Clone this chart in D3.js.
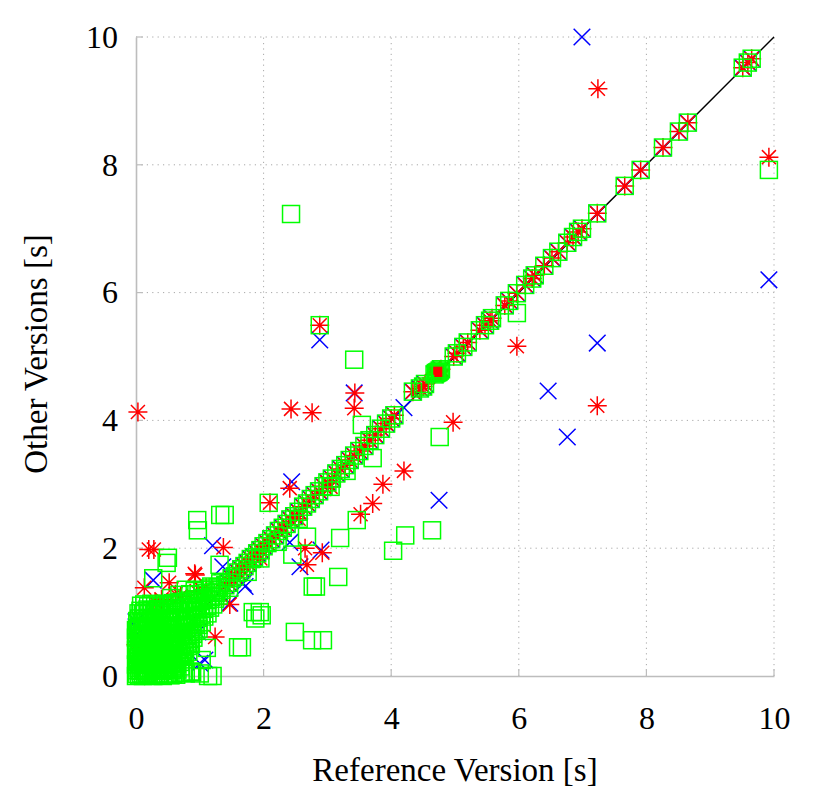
<!DOCTYPE html>
<html><head><meta charset="utf-8">
<script src="https://cdn.jsdelivr.net/npm/d3@7"></script>
<style>body{margin:0;background:#fff}</style>
</head><body>
<svg id="chart" width="830" height="792"></svg>
<script>
// tick labels
const xTicks = [0, 2, 4, 6, 8, 10];
const yTicks = [0, 2, 4, 6, 8, 10];

// benchmarks where all versions match the reference (on the diagonal)
const diagX = [1.40,1.45,1.50,1.55,1.60,1.65,1.70,1.75,1.80,1.85,1.90,1.95,2.00,2.06,2.12,2.18,2.24,2.30,2.36,2.42,2.48,2.55,2.62,2.68,2.74,2.80,2.87,2.94,3.00,3.07,3.14,3.21,3.28,3.35,3.42,3.50,3.58,3.66,3.75,3.84,3.92,4.00,4.05,4.34,4.45,4.50,4.53,4.68,4.70,4.72,4.74,4.76,4.78,4.98,5.03,5.13,5.20,5.39,5.47,5.55,5.58,5.78,5.85,5.97,6.10,6.21,6.25,6.40,6.52,6.62,6.76,6.85,6.93,6.99,7.23,7.66,7.91,8.26,8.51,8.65,9.51,9.59,9.65];
const diagY = [1.42,1.46,1.53,1.56,1.62,1.67,1.72,1.77,1.83,1.86,1.92,1.97,2.03,2.08,2.14,2.20,2.27,2.32,2.38,2.45,2.50,2.57,2.65,2.70,2.77,2.83,2.89,2.97,3.03,3.09,3.17,3.24,3.30,3.38,3.45,3.52,3.60,3.69,3.77,3.87,3.95,4.03,4.08,4.45,4.50,4.53,4.57,4.72,4.74,4.75,4.76,4.78,4.80,5.00,5.05,5.15,5.22,5.41,5.49,5.56,5.60,5.80,5.87,5.99,6.12,6.22,6.27,6.42,6.54,6.64,6.78,6.87,6.95,7.00,7.24,7.67,7.92,8.27,8.52,8.66,9.52,9.60,9.66];

// dense cloud of short benchmarks (Green version)
const clusterX = [0.00,0.02,0.05,0.08,0.11,0.14,0.17,0.20,0.24,0.27,0.31,0.34,0.38,0.42,0.46,0.50,0.54,0.58,0.63,0.70,0.78,0.88,
0.01,0.04,0.07,0.10,0.13,0.16,0.19,0.23,0.26,0.30,0.33,0.37,0.41,0.44,0.48,0.52,0.56,0.60,0.65,0.70,
0.00,0.03,0.06,0.09,0.12,0.15,0.18,0.22,0.25,0.29,0.32,0.36,0.39,0.43,0.47,0.51,0.55,0.59,0.64,0.69,0.74,
0.02,0.05,0.08,0.11,0.14,0.17,0.21,0.24,0.28,0.31,0.35,0.38,0.42,0.46,0.50,0.54,0.58,0.62,0.67,0.72,0.77,0.82,
0.00,0.04,0.07,0.10,0.13,0.16,0.20,0.23,0.27,0.30,0.34,0.37,0.41,0.45,0.49,0.53,0.57,0.61,0.66,0.71,0.76,0.81,0.86,
0.02,0.06,0.09,0.12,0.15,0.19,0.22,0.26,0.29,0.33,0.36,0.40,0.44,0.48,0.52,0.56,0.60,0.65,0.70,0.75,0.80,0.85,0.90,
0.01,0.05,0.08,0.11,0.14,0.18,0.21,0.25,0.28,0.32,0.35,0.39,0.43,0.47,0.51,0.55,0.59,0.64,0.69,0.74,0.79,0.84,0.89,0.94,0.98,
0.03,0.06,0.10,0.13,0.17,0.20,0.24,0.27,0.31,0.34,0.38,0.42,0.46,0.50,0.54,0.58,0.63,0.68,0.73,0.78,0.83,0.88,0.93,0.98,1.03,
0.02,0.05,0.09,0.12,0.16,0.19,0.23,0.26,0.30,0.33,0.37,0.41,0.45,0.49,0.53,0.57,0.62,0.67,0.72,0.77,0.82,0.87,0.92,0.97,1.02,1.07,1.12,
0.04,0.07,0.11,0.14,0.18,0.21,0.25,0.28,0.32,0.36,0.40,0.44,0.48,0.52,0.56,0.61,0.66,0.71,0.76,0.81,0.86,0.91,0.96,1.01,1.06,1.11,1.16,1.21,
0.08,0.13,0.19,0.24,0.30,0.35,0.41,0.46,0.52,0.58,0.64,0.70,0.76,0.82,0.88,0.94,1.00,1.06,1.12,1.18,1.24,1.30,
0.85,0.92,0.98,1.04,1.10,1.16,1.22,1.28,1.34,1.46,0.55,0.68,0.78,1.18,1.26,1.32];
const clusterY = [0.00,0.03,0.01,0.04,0.00,0.02,0.05,0.01,0.03,0.00,0.04,0.01,0.03,0.00,0.02,0.04,0.01,0.03,0.02,0.05,0.04,0.06,
0.09,0.12,0.08,0.13,0.10,0.07,0.12,0.09,0.14,0.08,0.11,0.13,0.08,0.12,0.10,0.14,0.09,0.12,0.10,0.15,
0.18,0.22,0.19,0.24,0.20,0.17,0.23,0.20,0.25,0.18,0.22,0.19,0.24,0.21,0.17,0.23,0.20,0.25,0.19,0.22,0.26,
0.29,0.33,0.28,0.32,0.35,0.30,0.27,0.33,0.30,0.35,0.28,0.32,0.36,0.30,0.33,0.28,0.35,0.31,0.34,0.30,0.36,0.38,
0.41,0.38,0.43,0.40,0.45,0.39,0.42,0.46,0.40,0.44,0.38,0.42,0.46,0.40,0.44,0.39,0.43,0.47,0.41,0.45,0.42,0.47,0.50,
0.50,0.54,0.49,0.55,0.51,0.48,0.53,0.57,0.50,0.54,0.49,0.56,0.51,0.55,0.50,0.57,0.52,0.55,0.51,0.57,0.54,0.58,0.60,
0.62,0.66,0.60,0.64,0.68,0.61,0.65,0.62,0.67,0.60,0.64,0.69,0.62,0.66,0.61,0.67,0.63,0.68,0.62,0.66,0.63,0.69,0.66,0.71,0.74,
0.74,0.78,0.72,0.77,0.73,0.79,0.75,0.71,0.77,0.73,0.79,0.74,0.78,0.72,0.77,0.74,0.79,0.75,0.79,0.76,0.80,0.77,0.82,0.80,0.84,
0.86,0.90,0.84,0.89,0.86,0.91,0.87,0.83,0.89,0.85,0.91,0.86,0.90,0.84,0.89,0.86,0.92,0.88,0.91,0.87,0.93,0.89,0.94,0.91,0.96,0.93,0.98,
0.98,1.02,0.97,1.01,1.04,0.99,1.03,0.97,1.01,1.05,0.99,1.03,0.98,1.04,1.00,1.05,1.01,1.06,1.02,1.07,1.03,1.08,1.04,1.09,1.05,1.10,1.07,1.12,
1.10,1.12,1.09,1.13,1.10,1.12,1.09,1.13,1.11,1.14,1.12,1.16,1.13,1.18,1.15,1.20,1.17,1.22,1.19,1.24,1.21,1.26,
1.28,1.33,1.27,1.35,1.30,1.37,1.32,1.39,1.35,1.38,1.22,1.27,1.35,1.40,1.30,1.45];

// visible outliers, Blue version
const blueX = [6.99,9.92,7.23,6.46,6.76,4.75,2.88,3.42,4.20,2.44,2.90,2.41,1.20,1.36,1.71,1.68,1.47,0.27,0.00,0.00,0.00,1.00,0.97,1.08,2.57];
const blueY = [10.00,6.20,5.21,4.46,3.74,2.75,5.26,4.43,4.20,3.04,1.97,2.09,2.04,1.71,1.40,1.45,1.14,1.50,0.85,0.64,0.77,0.20,0.69,0.25,1.71];

// visible outliers, Red version
const redX = [7.24,9.92,7.23,5.97,0.03,2.88,2.43,2.76,3.43,3.42,4.97,4.20,3.87,3.71,3.52,2.41,2.10,2.65,2.92,2.68,1.37,0.93,1.47,0.13,0.52,0.92,1.24,0.00,0.20,0.28,0.40,0.70,0.95,1.10,0.30,0.62,1.95,2.55,3.05];
const redY = [9.19,8.12,4.23,5.16,4.13,5.49,4.18,4.12,4.43,4.19,3.97,3.21,3.00,2.70,2.53,2.94,2.71,2.00,1.93,1.74,2.01,1.58,1.12,1.38,1.46,1.60,0.61,0.49,1.98,1.98,1.20,1.25,1.33,1.38,1.15,1.28,1.84,2.46,2.96];

// visible outliers, Green version
const greenX = [2.43,9.92,2.88,3.42,3.54,4.76,3.71,3.20,3.46,2.68,2.45,4.22,4.03,4.64,2.08,5.97,1.32,1.39,0.96,0.97,2.77,2.82,3.17,1.94,1.87,1.97,1.66,2.49,2.76,2.93,0.50,1.83,1.60,1.11,1.03,1.13,1.20,0.00,0.00,0.27,0.48,1.31,0.75,0.85,1.00,1.75,1.95,2.22,2.55,3.05,3.30];
const greenY = [7.23,7.92,5.49,4.95,3.93,3.74,3.41,2.16,2.44,2.18,1.90,2.20,1.96,2.28,2.71,5.68,2.52,2.52,2.44,2.28,1.40,1.40,1.55,1.00,0.90,0.95,0.45,0.69,0.56,0.56,1.85,1.00,0.45,0.44,0.25,0.00,0.00,0.72,0.60,1.53,1.77,1.74,0.05,0.07,0.04,1.63,1.84,2.10,2.46,2.96,3.21];

const W = 830, H = 792;
const svg = d3.select("#chart");
const x = d3.scaleLinear().domain([0, 10]).range([136, 774]);
const y = d3.scaleLinear().domain([0, 10]).range([676, 37]);
const font = "'Liberation Serif','Times New Roman',serif";

// grid
const grid = svg.append("g");
grid.selectAll(".gx").data(xTicks.filter(d => d > 0)).join("line")
  .attr("x1", d => x(d)).attr("x2", d => x(d)).attr("y1", y(0)).attr("y2", y(10))
  .attr("stroke", "#a8a8a8").attr("stroke-width", 1).attr("stroke-dasharray", "1.2,4.2");
grid.selectAll(".gy").data(yTicks.filter(d => d > 0)).join("line")
  .attr("y1", d => y(d)).attr("y2", d => y(d)).attr("x1", x(0)).attr("x2", x(10))
  .attr("stroke", "#a8a8a8").attr("stroke-width", 1).attr("stroke-dasharray", "1.2,4.2");

// axes (left + bottom only)
const xAxis = d3.axisBottom(x).tickValues(xTicks).tickSize(0).tickPadding(30).tickFormat(d3.format("d"));
const yAxis = d3.axisLeft(y).tickValues(yTicks).tickSize(0).tickPadding(18).tickFormat(d3.format("d"));
const gx = svg.append("g").attr("transform", `translate(0,${y(0)})`).call(xAxis);
const gy = svg.append("g").attr("transform", `translate(${x(0)},0)`).call(yAxis);
[gx, gy].forEach(g => {
  g.select(".domain").attr("stroke", "#bdbdbd").attr("stroke-width", 1.6);
  g.selectAll("text").attr("font-family", font).attr("font-size", 32).attr("fill", "#000");
});
gx.selectAll("text").attr("dy", "0.71em");
// inward tick marks
svg.append("g").selectAll("line").data(xTicks.filter(d => d > 0)).join("line")
  .attr("x1", d => x(d)).attr("x2", d => x(d)).attr("y1", y(0)).attr("y2", y(0) - 7)
  .attr("stroke", "#bdbdbd").attr("stroke-width", 1.2);
svg.append("g").selectAll("line").data(yTicks.filter(d => d > 0)).join("line")
  .attr("y1", d => y(d)).attr("y2", d => y(d)).attr("x1", x(0)).attr("x2", x(0) + 7)
  .attr("stroke", "#bdbdbd").attr("stroke-width", 1.2);

// axis titles
svg.append("text").attr("x", 455).attr("y", 781).attr("text-anchor", "middle")
  .attr("font-family", font).attr("font-size", 33).text("Reference Version [s]");
svg.append("text").attr("transform", "translate(47,354) rotate(-90)").attr("text-anchor", "middle")
  .attr("font-family", font).attr("font-size", 33).text("Other Versions [s]");

// identity line
svg.append("line").attr("x1", x(0)).attr("y1", y(0)).attr("x2", x(10)).attr("y2", y(10))
  .attr("stroke", "#000").attr("stroke-width", 1.5);

const zip = (xs, ys) => xs.map((v, i) => [v, ys[i]]);
const diag = zip(diagX, diagY);
const r = 8.5, sw = 1.5;

// Blue: crosses
const blueData = diag.concat(zip(blueX, blueY));
const gb = svg.append("g").attr("stroke", "#0000ff").attr("stroke-width", sw).attr("fill", "none");
gb.selectAll("path").data(blueData).join("path")
  .attr("d", d => { const cx = x(d[0]), cy = y(d[1]), k = 8.3;
    return `M${cx-k},${cy-k}L${cx+k},${cy+k}M${cx-k},${cy+k}L${cx+k},${cy-k}`; });

// Red: asterisks
const redData = diag.concat(zip(redX, redY));
const gr = svg.append("g").attr("stroke", "#ff0000").attr("stroke-width", sw).attr("fill", "none");
gr.selectAll("path").data(redData).join("path")
  .attr("d", d => { const cx = x(d[0]), cy = y(d[1]), k = 9.5, q = 7;
    return `M${cx},${cy-k}L${cx},${cy+k}M${cx-k},${cy}L${cx+k},${cy}M${cx-q},${cy-q}L${cx+q},${cy+q}M${cx-q},${cy+q}L${cx+q},${cy-q}`; });

// Green: squares
const greenData = zip(clusterX, clusterY).concat(diag, zip(greenX, greenY));
const gg = svg.append("g").attr("stroke", "#00ff00").attr("stroke-width", sw).attr("fill", "none");
gg.selectAll("rect").data(greenData).join("rect")
  .attr("x", d => x(d[0]) - r).attr("y", d => y(d[1]) - r)
  .attr("width", 2 * r).attr("height", 2 * r);
</script>
</body></html>
